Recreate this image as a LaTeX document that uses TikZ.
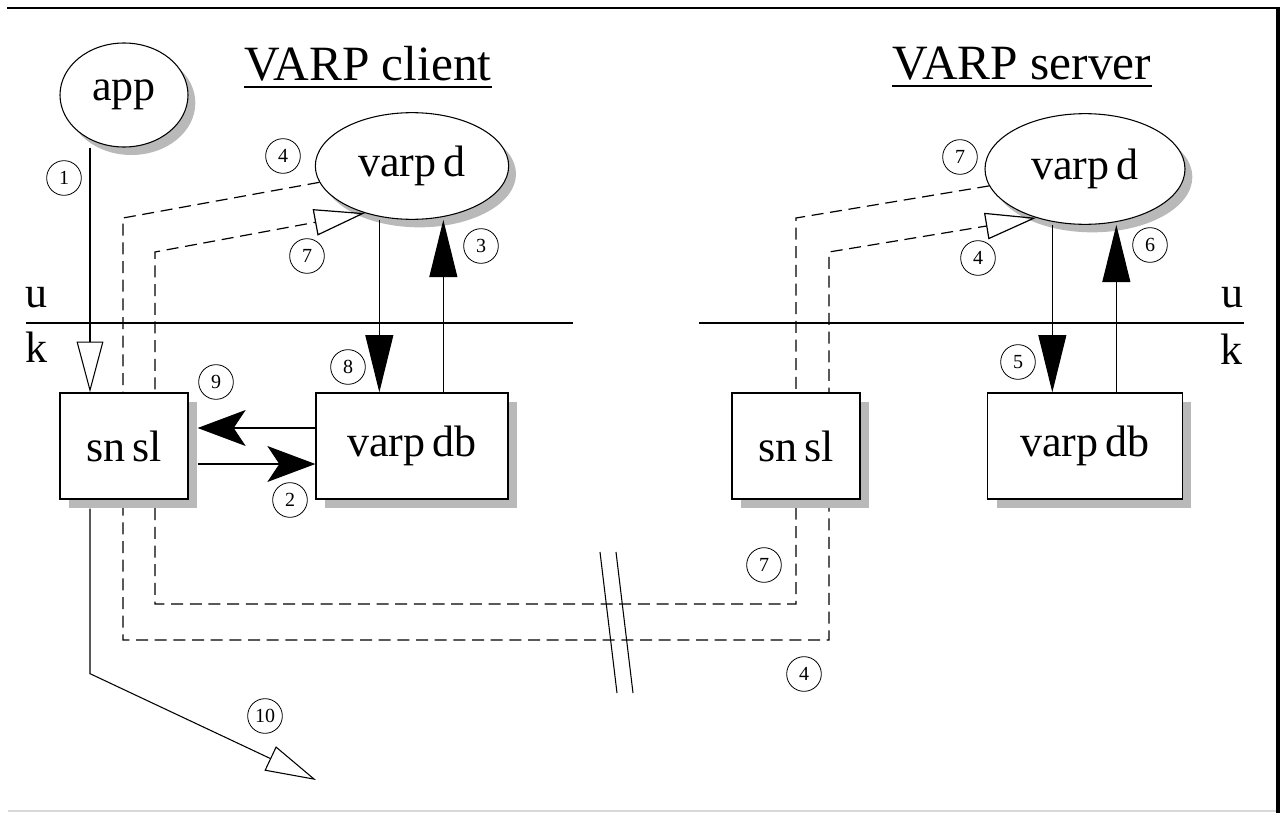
\documentclass[tikz,border=0pt]{standalone}
\usepackage{fontspec}
\setmainfont{Liberation Serif}
\usetikzlibrary{arrows.meta,shapes.geometric,shadows}

\begin{document}
\begin{tikzpicture}[x=0.75pt, y=-0.75pt, line width=0.8pt,
  nombre/.style={font=\fontsize{33}{33}\selectfont},
  proceso/.style={ellipse, draw, fill=white, nombre, minimum width=145pt, minimum height=80pt,
    drop shadow={shadow xshift=5.5pt, shadow yshift=-6pt, fill=gray!55, opacity=1}},
  caja/.style={draw, line width=1pt, fill=white, nombre, minimum width=96pt, minimum height=79.5pt,
    drop shadow={shadow xshift=6.75pt, shadow yshift=-6.75pt, fill=gray!55, opacity=1}},
  paso/.style={circle, draw, line width=0.6pt, inner sep=0pt, minimum size=26pt, font=\fontsize{15}{15}\selectfont},
  titulo/.style={font=\fontsize{37}{37}\selectfont, inner sep=0pt},
  capa/.style={font=\fontsize{33}{33}\selectfont, inner sep=0pt},
  hueca/.style={-{Triangle[open, length=38pt, width=20pt]}},
  llena/.style={-{Triangle[length=43pt, width=21pt]}},
  punta/.style={-{Stealth[length=36pt, width=27pt, inset=9pt]}},
  rayas/.style={dash pattern=on 9pt off 5pt, line width=0.9pt}]
\useasboundingbox (0,0) rectangle (1282,813);
\draw[line width=1.2pt] (7,8) -- (1278,8);
\draw[line width=3pt] (1278,7) -- (1278,813);
\draw[gray!30] (8,811) -- (1276,811);

\node[titulo] (titc) at (368,64) {VARP client};
\draw[line width=1.1pt] ([yshift=-3.75pt]titc.south west) -- ([yshift=-3.75pt]titc.south east);
\node[titulo] (tits) at (1022,64) {VARP server};
\draw[line width=1.1pt] ([yshift=-3.75pt]tits.south west) -- ([yshift=-3.75pt]tits.south east);

\draw (26,323) -- (573,323);
\draw (699,323) -- (1244,323);
\node[capa] (uc) at (36,298) {u};
\node[capa] (kc) at (37,347) {k};
\node[capa] (us) at (1232,298) {u};
\node[capa] (ks) at (1231,349) {k};

\node[proceso, minimum width=96pt, minimum height=78pt] (app) at (124,95) {app};
\node[proceso] (vdc) at (412,166) {varp\,d};
\node[proceso, minimum width=150pt, minimum height=83pt] (vds) at (1085,169) {varp\,d};

\draw[rayas, hueca] (vdc.190) -- (123,218) -- (123,640) -- (829,640) -- (829,252) -- (vds.225);
\draw[rayas, hueca] (vds.190) -- (796,218) -- (796,604) -- (155,604) -- (155,252) -- (vdc.225);

\node[caja] (snslc) at (124,446) {sn\,sl};
\node[caja, minimum width=144pt] (vdbc) at (412,446) {varp\,db};
\node[caja] (snsls) at (796,446) {sn\,sl};
\node[caja, minimum width=146pt] (vdbs) at (1085,446) {varp\,db};

\coordinate (col) at ([xshift=-25.5pt]snslc.north);
\coordinate (fin) at (316,780);
\draw[hueca] (col |- app.south) -- (col);
\draw[hueca, shorten <=6.75pt] (col |- snslc.south) -- ++(0,174) -- (fin);
\draw[punta] ([yshift=13.5pt]vdbc.west) -- ([xshift=6.75pt, yshift=13.5pt]snslc.east);
\draw[punta] ([xshift=6.75pt, yshift=-13.5pt]snslc.east) -- ([yshift=-13.5pt]vdbc.west);
\draw[llena] ([xshift=-24.5pt]vdc.south) -- ([xshift=-24.5pt]vdbc.north);
\draw[llena] ([xshift=23.5pt]vdbc.north) -- ([xshift=23.5pt]vdc.south);
\draw[llena] ([xshift=-24.5pt]vds.south) -- ([xshift=-24.5pt]vdbs.north);
\draw[llena] ([xshift=23.5pt]vdbs.north) -- ([xshift=23.5pt]vds.south);

\node[paso] (p1) at (64,178) {1};
\node[paso] (p2) at (290,500) {2};
\node[paso] (p3) at (481,246) {3};
\node[paso] (p4c) at (283,156) {4};
\node[paso] (p7c) at (307,256) {7};
\node[paso] (p8) at (348,367) {8};
\node[paso] (p9) at (216,382) {9};
\node[paso] (p10) at (265,716) {10};
\node[paso] (p7s) at (960,157) {7};
\node[paso] (p4s) at (978,258) {4};
\node[paso] (p5) at (1018,362) {5};
\node[paso] (p6) at (1150,245) {6};
\node[paso] (p7b) at (764,565) {7};
\node[paso] (p4b) at (804,674) {4};

\draw (600,552) -- (617,693);
\draw (616,552) -- (633,693);
\end{tikzpicture}
\end{document}
